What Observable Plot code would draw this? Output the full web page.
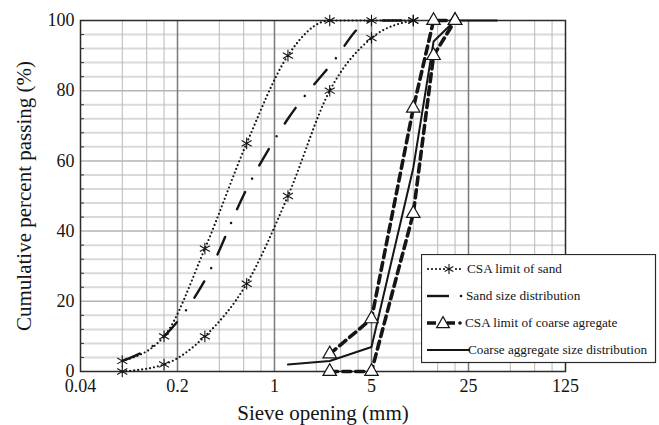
<!DOCTYPE html>
<html>
<head>
<meta charset="utf-8">
<script src="https://cdn.jsdelivr.net/npm/d3@7"></script>
<script src="https://cdn.jsdelivr.net/npm/@observablehq/plot@0.6"></script>
<style>
  html, body { margin: 0; padding: 0; background: #fff; }
  #wrap { position: relative; width: 659px; height: 425px; }
  #wrap svg text { font-family: "Liberation Serif", "Times New Roman", serif !important; }
  #legend { position: absolute; left: 421px; top: 254px; }
</style>
</head>
<body>
<div id="wrap"></div>
<script>
// ---- data ----
const sandSieves = [0.08, 0.16, 0.315, 0.63, 1.25, 2.5, 5, 10];
const sandUpper  = [3, 10, 35, 65, 90, 100, 100, 100];
const sandLower  = [0, 2, 10, 25, 50, 80, 95, 100];
const sandDist   = [3, 10, 26, 52, 72, 87, 100, 100];

const coarseSieves = [2.5, 5, 10, 14, 20];
const coarseUpper  = [5, 15, 75, 100, 100];
const coarseLower  = [0, 0, 45, 90, 100];

const coarseDistSieves = [1.25, 2.5, 5, 10, 14, 20, 40];
const coarseDist       = [2, 3, 7, 58, 94, 100, 100];

const seriesNames = [
  "CSA limit of sand",
  "Sand size distribution",
  "CSA limit of coarse agregate",
  "Coarse aggregate size distribution"
];

const xTicks = [0.04, 0.2, 1, 5, 25, 125];
const xMajorGrid = [0.2, 1, 5, 25];
const xMinorGrid = [0.08, 0.12, 0.16, 0.4, 0.6, 0.8, 2, 3, 4, 10, 15, 20, 50, 75, 100];
const yTicks = [0, 20, 40, 60, 80, 100];
const yMinorGrid = [4, 8, 12, 16, 24, 28, 32, 36, 44, 48, 52, 56, 64, 68, 72, 76, 84, 88, 92, 96];
const yMajorGrid = [20, 40, 60, 80];

const xTitle = "Sieve opening (mm)";
const yTitle = "Cumulative percent passing (%)";

// ---- tables ----
const zip = (xs, ys) => xs.map((x, i) => ({x, y: ys[i]}));
const sU = zip(sandSieves, sandUpper);
const sL = zip(sandSieves, sandLower);
const sD = zip(sandSieves, sandDist);
const cU = zip(coarseSieves, coarseUpper);
const cL = zip(coarseSieves, coarseLower);
const cD = zip(coarseDistSieves, coarseDist);

const ink = "#151515";
const font = "Liberation Serif, Times New Roman, serif";

const chart = Plot.plot({
  width: 659,
  height: 425,
  marginLeft: 80,
  marginRight: 94,
  marginTop: 20,
  marginBottom: 54,
  style: {fontFamily: font, fontSize: "18px", color: ink, background: "#fff"},
  x: {type: "log", domain: [0.04, 125], axis: null},
  y: {domain: [0, 100]},
  marks: [
    Plot.ruleY(yMinorGrid, {stroke: "#dadada", strokeWidth: 2}),
    Plot.ruleY(yMajorGrid, {stroke: "#b4b4b4", strokeWidth: 1.5}),
    Plot.ruleX(xMinorGrid, {stroke: "#b8b8b8", strokeWidth: 1}),
    Plot.ruleX(xMajorGrid, {stroke: "#7a7a7a", strokeWidth: 1.5}),
    Plot.frame({stroke: "#2a2a2a", strokeWidth: 1.5}),
    Plot.axisY({ticks: yMinorGrid, tickSize: 4, dx: 4, tickFormat: () => "", stroke: "#333", label: null}),
    Plot.text(xTicks, {x: d => d, frameAnchor: "bottom", dy: 15, lineAnchor: "middle", textAnchor: "middle", fontSize: 18, fill: ink, text: d => String(d)}),
    Plot.axisY({ticks: yTicks, tickSize: 0, tickPadding: 6, fontSize: 18, fill: ink, label: null}),
    Plot.text([xTitle], {frameAnchor: "bottom", dy: 42, lineAnchor: "middle", textAnchor: "middle", fontSize: 21, fill: ink}),
    Plot.text([yTitle], {frameAnchor: "left", dx: -56, rotate: -90, lineAnchor: "middle", textAnchor: "middle", fontSize: 21, fill: ink}),

    // sand limits (dotted)
    Plot.line(sU, {x: "x", y: "y", curve: "monotone-x", stroke: ink, strokeWidth: 2.2, strokeDasharray: "0,4", strokeLinecap: "round"}),
    Plot.line(sL, {x: "x", y: "y", curve: "monotone-x", stroke: ink, strokeWidth: 2.2, strokeDasharray: "0,4", strokeLinecap: "round"}),
    // sand distribution (dash-dot)
    Plot.line(sD, {x: "x", y: "y", curve: "monotone-x", stroke: ink, strokeWidth: 2.4, strokeDasharray: "19,15,0.1,15", strokeLinecap: "round"}),
    // coarse limits (thick dashed)
    Plot.line(cU, {x: "x", y: "y", stroke: ink, strokeWidth: 3.6, strokeDasharray: "8,5"}),
    Plot.line(cL, {x: "x", y: "y", stroke: ink, strokeWidth: 3.6, strokeDasharray: "8,5"}),
    // coarse distribution (solid)
    Plot.line(cD, {x: "x", y: "y", stroke: ink, strokeWidth: 2}),

    Plot.dot(sU, {x: "x", y: "y", symbol: "asterisk", r: 5.5, stroke: ink, strokeWidth: 1.1}),
    Plot.dot(sL, {x: "x", y: "y", symbol: "asterisk", r: 5.5, stroke: ink, strokeWidth: 1.1}),
    Plot.dot(cU, {x: "x", y: "y", symbol: "triangle", r: 5, fill: "#fff", stroke: ink, strokeWidth: 1.2}),
    Plot.dot(cL, {x: "x", y: "y", symbol: "triangle", r: 5, fill: "#fff", stroke: ink, strokeWidth: 1.2})
  ]
});

const wrap = document.getElementById("wrap");
wrap.appendChild(chart);

// ---- legend ----
const ast = (cx, cy, r) => {
  const t = r / 2, u = t * Math.sqrt(3);
  return `<path d="M${cx},${cy - r}V${cy + r}M${cx - u},${cy - t}L${cx + u},${cy + t}M${cx - u},${cy + t}L${cx + u},${cy - t}" stroke="${ink}" stroke-width="1.1" fill="none"/>`;
};
const tri = (cx, cy) => `<path d="${d3.symbol(d3.symbolTriangle, 70)()}" transform="translate(${cx},${cy})" fill="#fff" stroke="${ink}" stroke-width="1.2"/>`;
const rowsY = [15, 42, 69, 96];
const lx = 5;
let g = "";
g += `<rect x="0.5" y="0.5" width="234" height="108" fill="#fff" stroke="#2a2a2a" stroke-width="1.2"/>`;
g += `<path d="M${lx + 2},${rowsY[0]}H${lx + 37}" stroke="${ink}" stroke-width="2.2" stroke-dasharray="0,4" stroke-linecap="round"/>`;
g += `<rect x="${lx + 19}" y="${rowsY[0] - 5}" width="8" height="10" fill="#fff"/>`;
g += ast(lx + 23, rowsY[0], 5);
g += `<path d="M${lx + 1},${rowsY[1]}H${lx + 23}" stroke="${ink}" stroke-width="2.4"/>`;
g += `<circle cx="${lx + 35}" cy="${rowsY[1]}" r="1.3" fill="${ink}"/>`;
g += `<path d="M${lx + 1},${rowsY[2]}H${lx + 10}M${lx + 21},${rowsY[2]}H${lx + 29}" stroke="${ink}" stroke-width="3.6"/>`;
g += tri(lx + 17, rowsY[2] + 1);
g += `<circle cx="${lx + 34}" cy="${rowsY[2]}" r="1.8" fill="${ink}"/>`;
g += `<path d="M${lx + 1},${rowsY[3]}H${lx + 44}" stroke="${ink}" stroke-width="2"/>`;
const textX = [46, 45, 44, 47];
seriesNames.forEach((name, i) => {
  g += `<text x="${textX[i]}" y="${rowsY[i]}" dy="0.32em" style="font-family: 'Liberation Serif', serif; font-size: 13.2px" fill="${ink}">${name}</text>`;
});
const legend = document.createElement("div");
legend.id = "legend";
legend.innerHTML = `<svg width="236" height="110" xmlns="http://www.w3.org/2000/svg">${g}</svg>`;
wrap.appendChild(legend);
</script>
</body>
</html>
